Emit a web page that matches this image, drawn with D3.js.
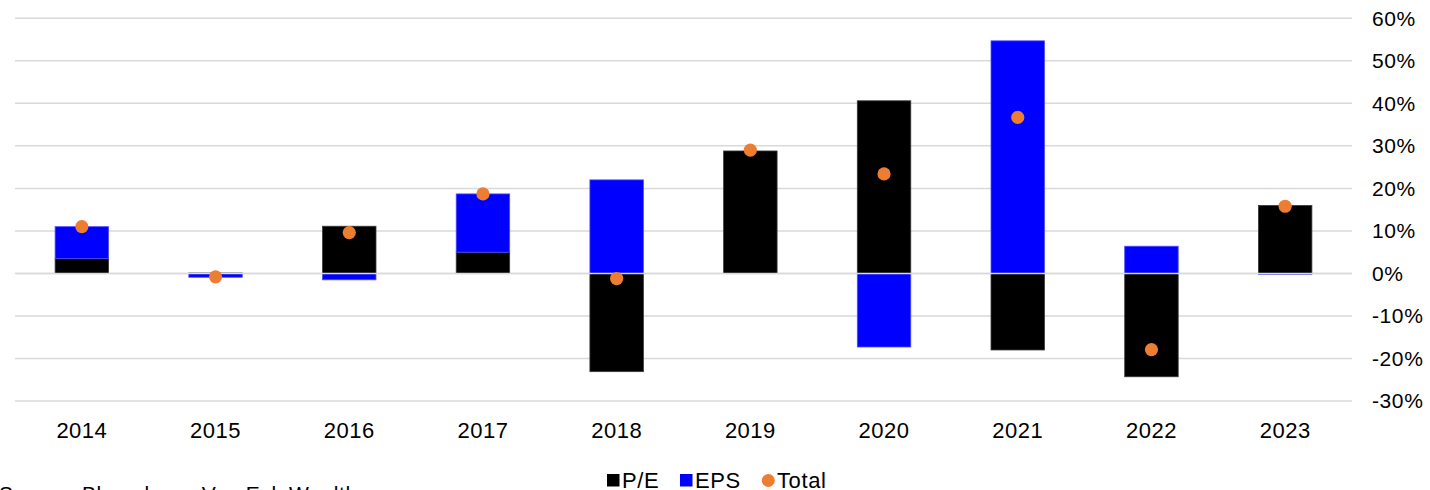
<!DOCTYPE html>
<meta charset="utf-8">
<style>
body { margin: 0; background: #fff; }
text { font-family: "Liberation Sans", Arial, sans-serif; fill: #000; }
.grid line { stroke: #d9d9d9; stroke-width: 1.5px; }
</style>
<body>
<script src="https://d3js.org/d3.v7.min.js"></script>
<script>

// data
var years = ["2014", "2015", "2016", "2017", "2018", "2019", "2020", "2021", "2022", "2023"];
var pe    = [3.5, 0.1, 11.1, 5.0, -23.1, 28.8, 40.6, -18.0, -24.3, 16.0];
var eps   = [7.5, -0.9, -1.5, 13.7, 22.0, 0.0, -17.3, 54.7, 6.4, -0.2];
var total = [11.0, -0.8, 9.6, 18.7, -1.2, 29.0, 23.4, 36.7, -17.9, 15.8];
var yTicks = [60, 50, 40, 30, 20, 10, 0, -10, -20, -30];

var W = 1430, H = 490;
var margin = {top: 18.3, right: 78, bottom: 89, left: 15},
    width = W - margin.left - margin.right,
    height = H - margin.top - margin.bottom;

var svg = d3.select("body").append("svg")
    .attr("width", W)
    .attr("height", H);

var g = svg.append("g")
    .attr("transform", "translate(" + margin.left + "," + margin.top + ")");

var x = d3.scaleBand().domain(years).range([0, width]).paddingInner(0.6).paddingOuter(0.3);
var y = d3.scaleLinear().domain([-30, 60]).range([height, 0]);

// gridlines
g.append("g")
    .attr("class", "grid")
  .selectAll("line")
  .data(yTicks)
  .enter().append("line")
    .attr("x1", 0)
    .attr("x2", width)
    .attr("y1", function(d) { return y(d); })
    .attr("y2", function(d) { return y(d); });

// stacked bars (positives and negatives stacked separately)
var rows = years.map(function(yr, i) { return {year: yr, pe: pe[i], eps: eps[i]}; });
var stack = d3.stack().keys(["pe", "eps"]).offset(d3.stackOffsetDiverging);
var series = stack(rows);
var colors = {pe: "#000000", eps: "#0000ff"};
var strokes = {pe: "#3a3a3a", eps: "#4d4dff"};

g.selectAll(".series")
  .data(series)
  .enter().append("g")
    .attr("class", "series")
    .attr("fill", function(d) { return colors[d.key]; })
    .attr("stroke", function(d) { return strokes[d.key]; })
    .attr("stroke-width", 0.8)
  .selectAll("rect")
  .data(function(d) { return d.filter(function(p) { return p[0] !== p[1]; }); })
  .enter().append("rect")
    .attr("x", function(d) { return x(d.data.year); })
    .attr("width", x.bandwidth())
    .attr("y", function(d) { return y(Math.max(d[0], d[1])); })
    .attr("height", function(d) { return Math.abs(y(d[0]) - y(d[1])); });

// zero line over the bars
g.append("line")
    .attr("x1", 0)
    .attr("x2", width)
    .attr("y1", y(0))
    .attr("y2", y(0))
    .style("stroke", "#d9d9d9")
    .style("stroke-width", 1.5);

// total dots
g.selectAll(".dot")
  .data(total)
  .enter().append("circle")
    .attr("class", "dot")
    .attr("cx", function(d, i) { return x(years[i]) + x.bandwidth() / 2; })
    .attr("cy", function(d) { return y(d); })
    .attr("r", 6.6)
    .style("fill", "#ed7d31");

// x axis labels
var xAxis = g.append("g")
    .attr("transform", "translate(0," + height + ")")
    .call(d3.axisBottom(x).tickSize(0).tickPadding(21));
xAxis.select(".domain").remove();
xAxis.selectAll("text")
    .style("font-size", "22px")
    .style("letter-spacing", "0.5px")
    .style("font-family", "Liberation Sans, Arial, sans-serif");

// right y axis labels
var yAxis = g.append("g")
    .attr("transform", "translate(" + width + ",0)")
    .call(d3.axisRight(y).tickValues(yTicks).tickSize(0).tickPadding(20)
      .tickFormat(function(d) { return d + "%"; }));
yAxis.select(".domain").remove();
yAxis.selectAll("text")
    .style("font-size", "21px")
    .style("letter-spacing", "0.6px")
    .style("font-family", "Liberation Sans, Arial, sans-serif");

// legend
var legendItems = [
  {label: "P/E", color: "#000000", shape: "rect", x: 607},
  {label: "EPS", color: "#0000ff", shape: "rect", x: 680},
  {label: "Total", color: "#ed7d31", shape: "circle", x: 762}
];
var legend = svg.append("g");
legendItems.forEach(function(it) {
  if (it.shape === "rect") {
    legend.append("rect")
        .attr("x", it.x).attr("y", 474)
        .attr("width", 12.5).attr("height", 12.5)
        .style("fill", it.color);
  } else {
    legend.append("circle")
        .attr("cx", it.x + 6.3).attr("cy", 480.5).attr("r", 6.5)
        .style("fill", it.color);
  }
  legend.append("text")
      .attr("x", it.x + 15)
      .attr("y", 488)
      .style("font-size", "22px")
      .style("letter-spacing", "0.6px")
      .text(it.label);
});

// source line, mostly cut off at the bottom edge
svg.append("text")
    .attr("x", -1)
    .attr("y", 501)
    .style("font-size", "21px")
    .style("letter-spacing", "0.6px")
    .text("Source: Bloomberg, Van Eck Wealth");

</script>
</body>
